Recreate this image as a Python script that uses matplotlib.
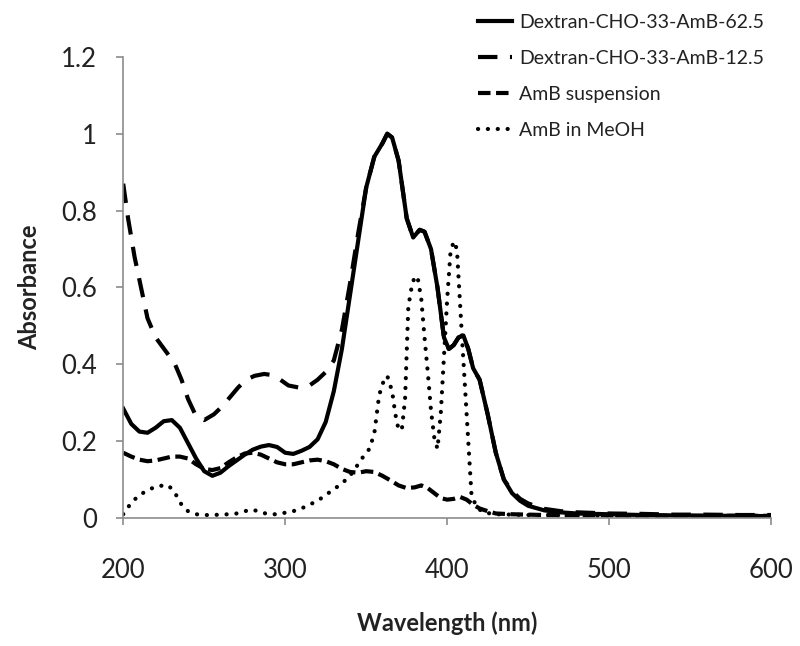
import matplotlib
matplotlib.use("Agg")
import matplotlib.pyplot as plt
from matplotlib.ticker import FuncFormatter

plt.rcParams['font.family'] = ['Lato', 'DejaVu Sans']
plt.rcParams['lines.scale_dashes'] = False

# Dextran-CHO-33-AmB-62.5
wl_625 = [200, 205, 210, 215, 220, 225, 230, 235, 240, 245, 250, 255, 260, 265, 270,
          275, 280, 285, 290, 295, 300, 305, 310, 315, 320, 325, 330, 335, 340, 345,
          350, 355, 360, 363, 366, 370, 375, 379, 383, 386, 390, 394, 398, 401, 404,
          407, 410, 413, 416, 420, 425, 430, 435, 440, 445, 450, 460, 470, 480, 500,
          520, 540, 560, 580, 600]
abs_625 = [0.285, 0.245, 0.225, 0.222, 0.235, 0.252, 0.255, 0.235, 0.195, 0.155, 0.122,
           0.11, 0.118, 0.135, 0.15, 0.165, 0.178, 0.186, 0.19, 0.185, 0.17, 0.167,
           0.175, 0.185, 0.205, 0.25, 0.33, 0.44, 0.58, 0.72, 0.86, 0.94, 0.975, 1.0,
           0.99, 0.93, 0.78, 0.73, 0.75, 0.745, 0.7, 0.6, 0.47, 0.44, 0.45, 0.47,
           0.475, 0.44, 0.39, 0.36, 0.27, 0.17, 0.1, 0.065, 0.045, 0.032, 0.02,
           0.015, 0.012, 0.01, 0.008, 0.007, 0.006, 0.006, 0.005]

# Dextran-CHO-33-AmB-12.5
wl_125 = [200, 203, 207, 211, 215, 220, 227, 232, 236, 240, 245, 250, 256, 261, 266,
          271, 276, 281, 287, 292, 297, 302, 308, 315, 320, 325, 330, 335, 340, 345,
          350, 355, 360, 363, 366, 370, 375, 379, 383, 386, 390, 394, 398, 401, 404,
          407, 410, 413, 416, 420, 425, 430, 435, 440, 445, 450, 460, 470, 480, 500,
          520, 540, 560, 580, 600]
abs_125 = [0.87, 0.78, 0.68, 0.6, 0.52, 0.47, 0.43, 0.4, 0.36, 0.31, 0.265, 0.255,
           0.27, 0.29, 0.315, 0.34, 0.36, 0.37, 0.375, 0.372, 0.36, 0.345, 0.34, 0.345,
           0.36, 0.38, 0.41, 0.49, 0.61, 0.74, 0.86, 0.94, 0.975, 1.0, 0.99, 0.93,
           0.78, 0.73, 0.75, 0.745, 0.7, 0.6, 0.47, 0.44, 0.45, 0.47, 0.475, 0.44,
           0.39, 0.36, 0.27, 0.17, 0.1, 0.07, 0.05, 0.038, 0.024, 0.018, 0.015, 0.012,
           0.011, 0.009, 0.009, 0.008, 0.008]

# AmB suspension
wl_susp = [200, 205, 210, 215, 220, 225, 230, 235, 240, 245, 250, 255, 260, 265, 270,
           275, 280, 285, 290, 295, 300, 305, 310, 315, 320, 325, 330, 335, 340, 345,
           350, 355, 360, 365, 370, 375, 380, 384, 388, 392, 396, 400, 404, 408, 412,
           416, 420, 425, 430, 440, 460, 500, 550, 600]
abs_susp = [0.17, 0.16, 0.152, 0.148, 0.15, 0.155, 0.16, 0.16, 0.155, 0.14, 0.128,
            0.125, 0.13, 0.145, 0.158, 0.168, 0.17, 0.165, 0.155, 0.145, 0.14, 0.14,
            0.145, 0.15, 0.152, 0.148, 0.14, 0.128, 0.12, 0.118, 0.122, 0.12, 0.11,
            0.098, 0.085, 0.078, 0.08, 0.085, 0.078, 0.065, 0.052, 0.048, 0.05,
            0.055, 0.048, 0.035, 0.025, 0.018, 0.012, 0.01, 0.008, 0.007, 0.006, 0.006]

# AmB in MeOH
wl_meoh = [200, 205, 210, 215, 220, 225, 228, 232, 236, 240, 245, 250, 255, 260, 265,
           270, 275, 280, 285, 290, 295, 300, 305, 310, 315, 320, 325, 330, 335, 340,
           345, 349, 352, 355, 358, 361, 363, 366, 368, 370, 372, 374, 376, 378, 380,
           382, 384, 386, 388, 390, 392, 394, 396, 398, 400, 402, 404, 406, 409, 411,
           413, 415, 418, 422, 430, 450, 500, 550, 600]
abs_meoh = [0.01, 0.04, 0.06, 0.072, 0.082, 0.085, 0.085, 0.065, 0.035, 0.018, 0.01,
            0.008, 0.008, 0.009, 0.01, 0.012, 0.018, 0.022, 0.015, 0.01, 0.01, 0.014,
            0.018, 0.025, 0.035, 0.045, 0.06, 0.075, 0.09, 0.11, 0.14, 0.165, 0.18,
            0.22, 0.32, 0.36, 0.37, 0.33, 0.27, 0.23, 0.23, 0.31, 0.55, 0.6, 0.63,
            0.62, 0.57, 0.47, 0.38, 0.28, 0.21, 0.18, 0.27, 0.42, 0.57, 0.69, 0.72,
            0.7, 0.48, 0.34, 0.2, 0.06, 0.03, 0.015, 0.01, 0.008, 0.006, 0.005, 0.005]

labels = ['Dextran-CHO-33-AmB-62.5', 'Dextran-CHO-33-AmB-12.5',
          'AmB suspension', 'AmB in MeOH']

fig = plt.figure(figsize=(8, 6.46), dpi=100)
ax = fig.add_axes([0.154, 0.198, 0.81, 0.714])

lw = 3.0
l2, = ax.plot(wl_125, abs_125, color='black', lw=lw, dashes=(14, 9), label=labels[1])
l3, = ax.plot(wl_susp, abs_susp, color='black', lw=lw, dashes=(9, 4), label=labels[2])
l4, = ax.plot(wl_meoh, abs_meoh, color='black', lw=lw, dashes=(0.1, 7),
              dash_capstyle='round', label=labels[3])
l1, = ax.plot(wl_625, abs_625, color='black', lw=lw, solid_joinstyle='round', label=labels[0])

ax.set_xlim(200, 600)
ax.set_ylim(0, 1.2)
ax.set_xticks([200, 300, 400, 500, 600])
ax.set_yticks([0, 0.2, 0.4, 0.6, 0.8, 1.0, 1.2])
ax.yaxis.set_major_formatter(FuncFormatter(lambda v, p: '%g' % round(v, 1)))

for s in ['top', 'right']:
    ax.spines[s].set_visible(False)
for s in ['left', 'bottom']:
    ax.spines[s].set_color('#8c8c8c')
    ax.spines[s].set_linewidth(1.2)
ax.tick_params(axis='both', colors='#8c8c8c', length=5, width=1.2, labelcolor='#222222',
               labelsize=18.5)
ax.tick_params(axis='x', pad=24)
ax.tick_params(axis='y', pad=14)

ax.set_xlabel('Wavelength (nm)', fontsize=17, fontweight='bold', labelpad=20, color='#222222')
ax.set_ylabel('Absorbance', fontsize=17, fontweight='bold', labelpad=14, color='#222222')

leg = fig.legend([l1, l2, l3, l4], labels, loc='upper left',
                 bbox_to_anchor=(0.581, 1.0), frameon=False, fontsize=14,
                 handlelength=1.75, handletextpad=0.35, labelspacing=0.98, borderpad=0.2)
for t in leg.get_texts():
    t.set_color('#222222')

fig.savefig('out.png', dpi=100)
